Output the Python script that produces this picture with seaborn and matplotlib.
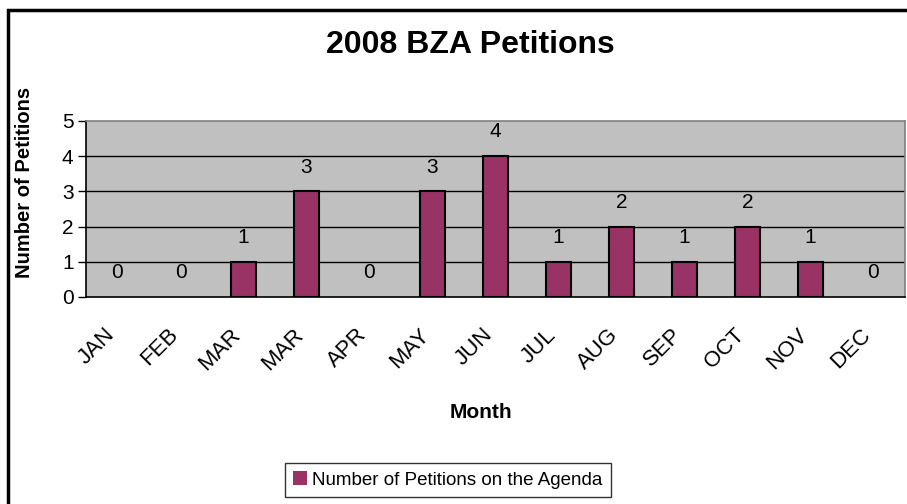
import numpy as np
import pandas as pd
import matplotlib
matplotlib.use("Agg")
import matplotlib.pyplot as plt
import matplotlib.transforms as mtransforms
from matplotlib.patches import Rectangle
import seaborn as sns

months = ["JAN", "FEB", "MAR", "MAR", "APR", "MAY", "JUN", "JUL", "AUG", "SEP", "OCT", "NOV", "DEC"]
petitions = [0, 0, 1, 3, 0, 3, 4, 1, 2, 1, 2, 1, 0]
series_name = "Number of Petitions on the Agenda"

sns.set_style("white")
plt.rcParams["font.family"] = ["Liberation Sans", "DejaVu Sans"]
plt.rcParams.update({"text.color": "black", "axes.labelcolor": "black",
                     "xtick.color": "black", "ytick.color": "black"})

df = pd.DataFrame({"pos": np.arange(len(months)), "count": petitions})

fig = plt.figure(figsize=(9.07, 5.04), dpi=100)
ax = fig.add_axes([86 / 907, 1 - 297 / 504, (905 - 86) / 907, (297 - 121) / 504])
ax.set_facecolor("#C0C0C0")

sns.barplot(data=df, x="pos", y="count", color="#993366", width=0.4,
            edgecolor="black", linewidth=1.5, saturation=1, label=series_name, ax=ax)
# zero bars have no visible outline in the original
for p in ax.patches:
    if p.get_height() == 0:
        p.set_linewidth(0)

ax.set_xlim(-0.5, len(months) - 0.5)
ax.set_ylim(0, 5)
ax.set_yticks(range(6))
ax.set_yticklabels([str(v) for v in range(6)], fontsize=15)
for y in range(1, 5):
    ax.axhline(y, color="black", lw=1, zorder=0.5)

# month labels at centres, tick marks at category boundaries
ax.set_xticks(np.arange(len(months)))
ax.set_xticklabels(months, rotation=45, ha="right", va="center",
                   rotation_mode="anchor", fontsize=16)
ax.set_xticks(np.arange(len(months) + 1) - 0.5, minor=True)
ax.tick_params(axis="x", which="major", length=0, pad=25)
ax.tick_params(axis="x", which="minor", length=6, width=1, color="black", direction="out")
ax.tick_params(axis="y", length=6, width=1, color="black", direction="out", left=True, pad=3)
shift = mtransforms.ScaledTranslation(-6 / 100, 0, fig.dpi_scale_trans)
for lbl in ax.get_xticklabels():
    lbl.set_transform(lbl.get_transform() + shift)

for s in ["left", "bottom"]:
    ax.spines[s].set_color("black")
    ax.spines[s].set_linewidth(1.2)
for s in ["top", "right"]:
    ax.spines[s].set_color("#808080")
    ax.spines[s].set_linewidth(1.2)

for i, v in enumerate(petitions):
    ax.annotate(str(v), (i, v), xytext=(0, 17.5), textcoords="offset points",
                ha="center", va="center", fontsize=15, color="black")

ax.set_xlabel("")
ax.set_ylabel("")
fig.text(470 / 907, 1 - 45 / 504, "2008 BZA Petitions", ha="center", va="center",
         fontsize=23, fontweight="bold", color="black")
fig.text(25 / 907, 1 - 182 / 504, "Number of Petitions", ha="center", va="center",
         rotation=90, fontsize=14.5, fontweight="bold", color="black")
fig.text(481 / 907, 1 - 412 / 504, "Month", ha="center", va="center",
         fontsize=15, fontweight="bold", color="black")

if ax.legend_ is not None:
    ax.legend_.remove()
handles, labels = ax.get_legend_handles_labels()
leg = fig.legend(handles, labels, loc="center", bbox_to_anchor=(448 / 907, 1 - 480 / 504),
                 fontsize=13.5, frameon=True, fancybox=False, handlelength=0.7,
                 handleheight=0.7, handletextpad=0.3, borderpad=0.45, borderaxespad=0,
                 labelcolor="black")
leg.get_frame().set_edgecolor("black")
leg.get_frame().set_linewidth(1)

fig.patches.append(Rectangle((8 / 907, -0.02), 1.1, 1 - 10 / 504 + 0.02,
                             transform=fig.transFigure, fill=False,
                             edgecolor="black", linewidth=2.5))

fig.savefig("out.png", dpi=100)
